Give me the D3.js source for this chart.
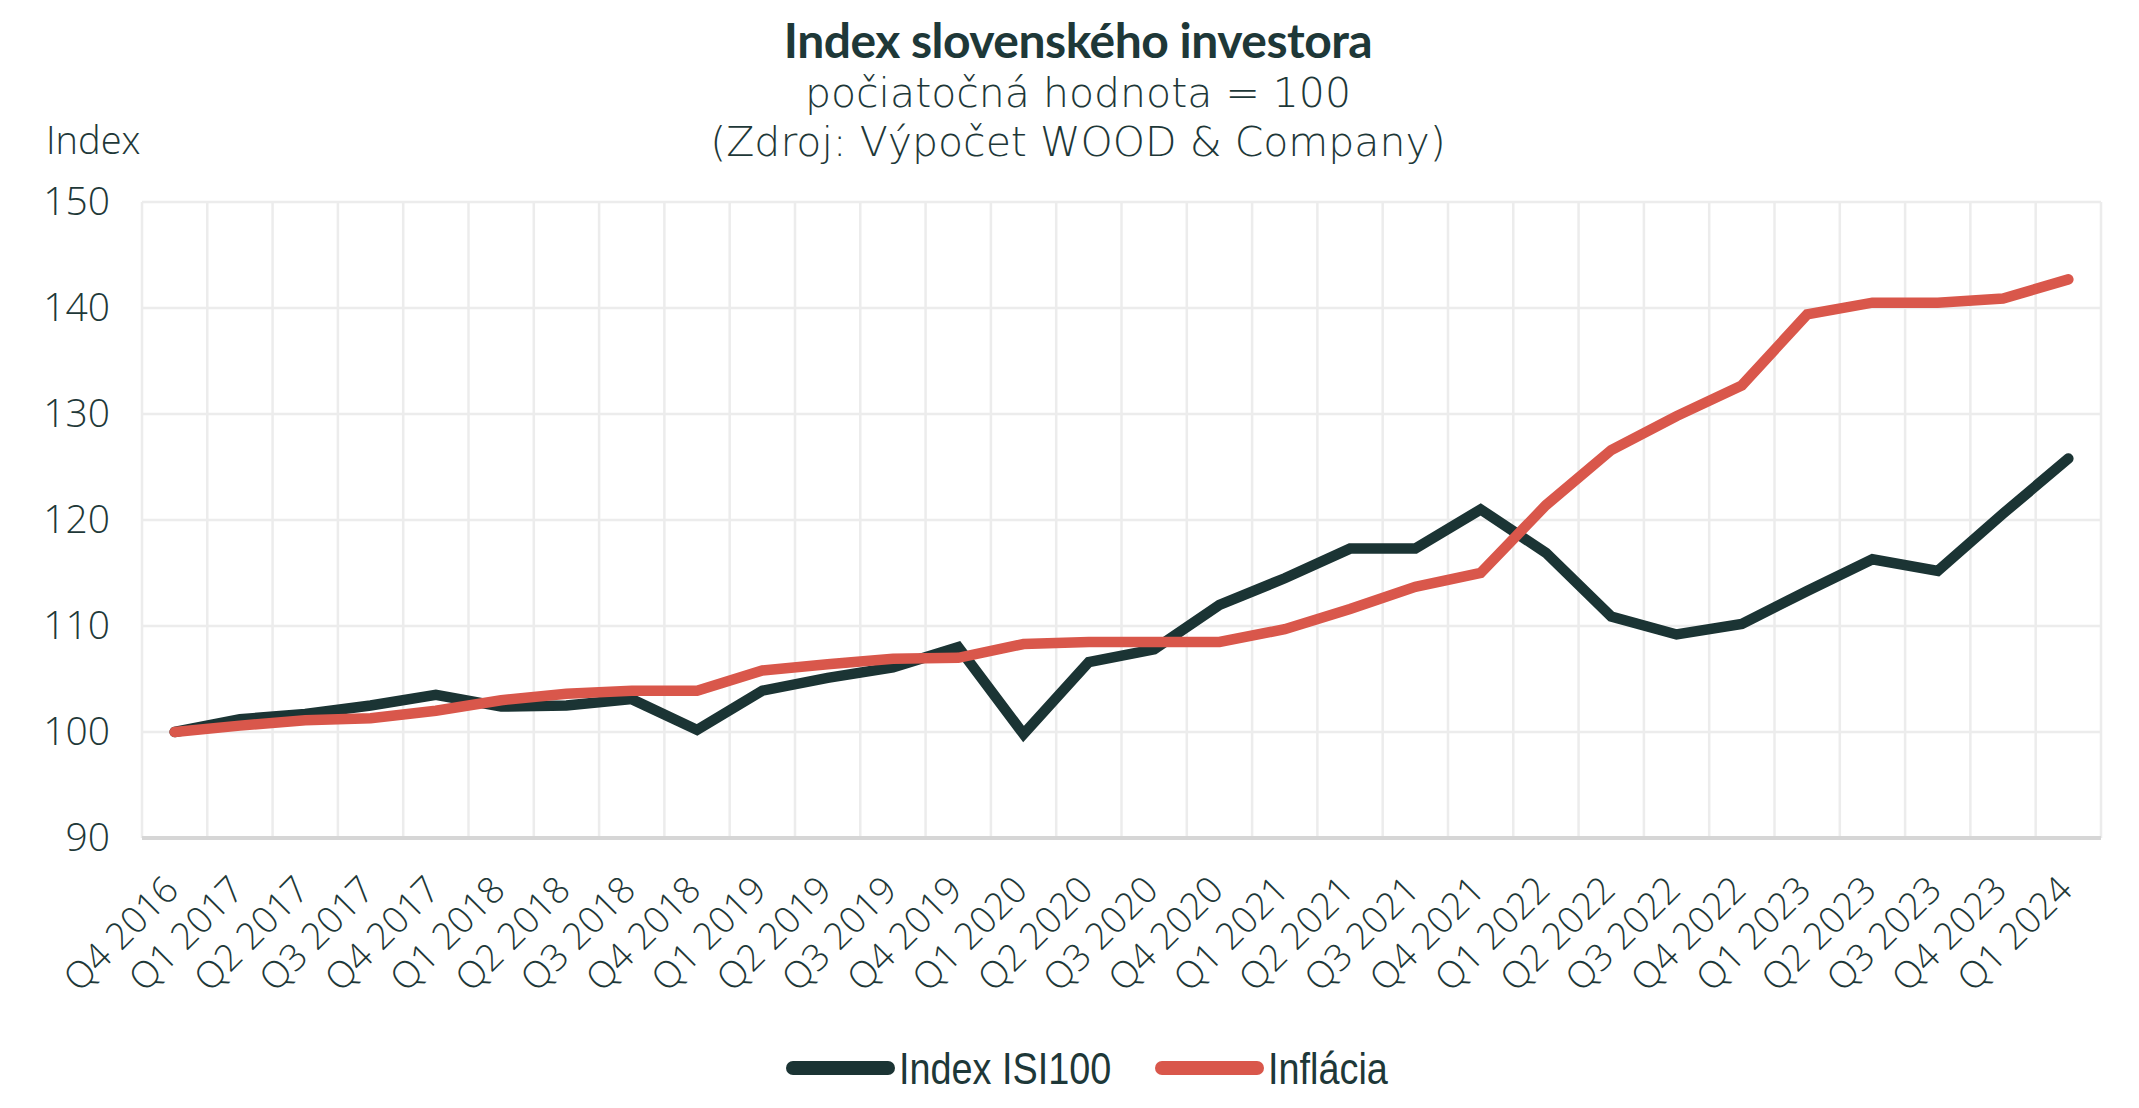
<!DOCTYPE html>
<html>
<head>
<meta charset="utf-8">
<script src="https://cdn.jsdelivr.net/npm/d3@7"></script>
<style>
  body { margin: 0; background: #fff; }
  svg { display: block; }
  text { font-family: "Open Sans", "Noto Sans", sans-serif; fill: #1e3838; }
</style>
</head>
<body>
<div id="chart"></div>
<script>
// Data
const categories = [
  'Q4 2016',
  'Q1 2017', 'Q2 2017', 'Q3 2017', 'Q4 2017',
  'Q1 2018', 'Q2 2018', 'Q3 2018', 'Q4 2018',
  'Q1 2019', 'Q2 2019', 'Q3 2019', 'Q4 2019',
  'Q1 2020', 'Q2 2020', 'Q3 2020', 'Q4 2020',
  'Q1 2021', 'Q2 2021', 'Q3 2021', 'Q4 2021',
  'Q1 2022', 'Q2 2022', 'Q3 2022', 'Q4 2022',
  'Q1 2023', 'Q2 2023', 'Q3 2023', 'Q4 2023',
  'Q1 2024'
];
const indexISI100 = [
  100.0, 101.2, 101.7, 102.5, 103.5, 102.4, 102.5, 103.1, 100.2, 103.9,
  105.1, 106.1, 108.0, 99.8, 106.6, 107.8, 112.0, 114.5, 117.3, 117.3,
  121.0, 116.9, 110.9, 109.2, 110.2, 113.3, 116.3, 115.2, 120.6, 125.8
];
const inflacia = [
  100.0, 100.6, 101.1, 101.3, 102.0, 103.0, 103.6, 103.9, 103.9, 105.8,
  106.4, 106.9, 107.0, 108.3, 108.5, 108.5, 108.5, 109.7, 111.6, 113.7,
  115.0, 121.4, 126.6, 129.8, 132.7, 139.4, 140.5, 140.5, 140.9, 142.7
];
const yTicks = [90, 100, 110, 120, 130, 140, 150];
const seriesNames = ['Index ISI100', 'Inflácia'];

const W = 2139, H = 1108;
const margin = { top: 202, right: 38, bottom: 270, left: 142 };
const width = W - margin.left - margin.right;
const height = H - margin.top - margin.bottom;

const colors = { dark: '#1b3434', red: '#d9574b', grid: '#ececec', axis: '#d6d6d6' };

const svg = d3.select('#chart')
    .append('svg')
    .attr('width', W)
    .attr('height', H);

// Titles
svg.append('text')
    .attr('x', 1078).attr('y', 58)
    .attr('text-anchor', 'middle')
    .style('font-family', '"Lato", sans-serif')
    .style('font-size', '48px')
    .style('font-weight', 'bold')
    .style('letter-spacing', '-0.5px')
    .text('Index slovenského investora');
// subtitle lines: DejaVu keeps the line box short enough for the tight spacing
svg.append('text')
    .attr('x', 1078).attr('y', 107)
    .attr('text-anchor', 'middle')
    .style('font-family', '"DejaVu Sans", sans-serif')
    .style('font-size', '41px')
    .style('font-weight', 300)
    .text('počiatočná hodnota = 100');
svg.append('text')
    .attr('x', 1078).attr('y', 156)
    .attr('text-anchor', 'middle')
    .style('font-family', '"DejaVu Sans", sans-serif')
    .style('font-size', '41px')
    .style('font-weight', 300)
    .text('(Zdroj: Výpočet WOOD & Company)');

// Y axis label
svg.append('text')
    .attr('x', 46).attr('y', 154)
    .style('font-size', '38px')
    .style('font-weight', 300)
    .text('Index');

const g = svg.append('g')
    .attr('transform', `translate(${margin.left},${margin.top})`);

const x = d3.scaleBand()
    .domain(categories)
    .range([0, width])
    .padding(0);
const cx = d => x(d) + x.bandwidth() / 2;

const y = d3.scaleLinear()
    .domain([90, 150])
    .range([height, 0]);

// Grid: vertical lines on band edges
const edges = categories.map(d => x(d)).concat([width]);
g.append('g')
    .selectAll('line')
    .data(edges)
    .enter()
    .append('line')
    .attr('x1', d => d).attr('x2', d => d)
    .attr('y1', 0).attr('y2', height)
    .attr('stroke', colors.grid)
    .attr('stroke-width', 2.5);

// Grid: horizontal lines
g.append('g')
    .selectAll('line')
    .data(yTicks)
    .enter()
    .append('line')
    .attr('x1', 0).attr('x2', width)
    .attr('y1', d => y(d)).attr('y2', d => y(d))
    .attr('stroke', d => d === 90 ? colors.axis : colors.grid)
    .attr('stroke-width', d => d === 90 ? 4 : 2.5);

// Y axis labels
const yAxis = g.append('g')
    .call(d3.axisLeft(y).tickValues(yTicks).tickSize(0).tickPadding(32));
yAxis.select('.domain').remove();
yAxis.selectAll('text')
    .style('font-size', '39px')
    .style('font-weight', 300)
    .style('font-family', '"Open Sans", sans-serif')
    .style('fill', '#1e3838');

// X axis labels
const xAxis = g.append('g')
    .attr('transform', `translate(0,${height})`)
    .call(d3.axisBottom(x).tickSize(0).tickPadding(0));
xAxis.select('.domain').remove();
xAxis.selectAll('text')
    .attr('text-anchor', 'end')
    .attr('dy', 0)
    .attr('transform', 'translate(6,54) rotate(-45)')
    .style('font-size', '37px')
    .style('font-weight', 300)
    .style('font-family', '"Open Sans", sans-serif')
    .style('fill', '#1e3838');

// Lines
const line = d3.line()
    .x((d, i) => cx(categories[i]))
    .y(d => y(d));

g.append('path')
    .datum(indexISI100)
    .attr('fill', 'none')
    .attr('stroke', colors.dark)
    .attr('stroke-width', 10.5)
    .attr('stroke-linejoin', 'miter')
    .attr('stroke-linecap', 'round')
    .attr('d', line);

g.append('path')
    .datum(inflacia)
    .attr('fill', 'none')
    .attr('stroke', colors.red)
    .attr('stroke-width', 10.5)
    .attr('stroke-linejoin', 'miter')
    .attr('stroke-linecap', 'round')
    .attr('d', line);

// Legend (text squeezed horizontally to mimic the condensed face)
const legendItems = [
  { name: seriesNames[0], color: colors.dark, x: 793 },
  { name: seriesNames[1], color: colors.red, x: 1162 }
];
const legend = svg.append('g').attr('transform', 'translate(0,1068)');
legendItems.forEach(item => {
    legend.append('line')
        .attr('x1', item.x).attr('x2', item.x + 95)
        .attr('y1', 0).attr('y2', 0)
        .attr('stroke', item.color)
        .attr('stroke-width', 14)
        .attr('stroke-linecap', 'round');
    legend.append('text')
        .attr('transform', `translate(${item.x + 106},16) scale(0.86,1)`)
        .style('font-family', '"Liberation Sans", sans-serif')
        .style('font-size', '44px')
        .text(item.name);
});
</script>
</body>
</html>
